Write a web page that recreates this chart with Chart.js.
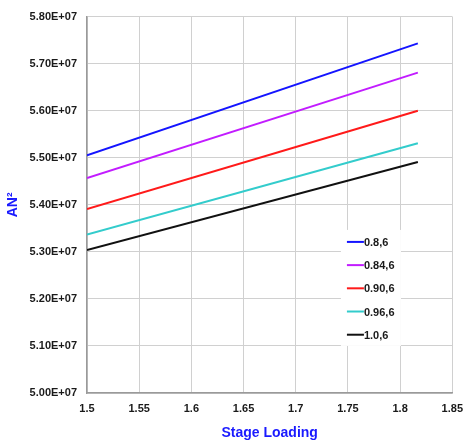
<!DOCTYPE html>
<html>
<head>
<meta charset="utf-8">
<script src="https://cdn.jsdelivr.net/npm/chart.js@4"></script>
<style>
  html, body { margin: 0; padding: 0; background: #fff; }
  #wrap { width: 472px; height: 442px; }
</style>
</head>
<body>
<div id="wrap"><canvas id="chart" width="472" height="442"></canvas></div>
<script>
const FONT = "'Liberation Sans', Arial, sans-serif";

// stage loading at the two ends of every line
const stageLoading = [1.5, 1.817];

const seriesNames = ["0.8,6", "0.84,6", "0.90,6", "0.96,6", "1.0,6"];
const seriesColors = ["#1414ff", "#c21cff", "#ff1a1a", "#33cccc", "#111111"];

const an2_08 = [5.505e7, 5.743e7];
const an2_084 = [5.457e7, 5.681e7];
const an2_090 = [5.391e7, 5.600e7];
const an2_096 = [5.337e7, 5.531e7];
const an2_10 = [5.304e7, 5.491e7];

const allSeries = [an2_08, an2_084, an2_090, an2_096, an2_10];

const xTicks = [1.5, 1.55, 1.6, 1.65, 1.7, 1.75, 1.8, 1.85];

// legend drawn inside the plot, like the original
const innerLegend = {
  id: "innerLegend",
  afterDraw(chart) {
    const ctx = chart.ctx;
    const x = chart.scales.x.getPixelForValue(1.75) - 1;
    const y0 = chart.scales.y.getPixelForValue(5.37e7) + 23;
    ctx.save();
    ctx.fillStyle = "#fff";
    ctx.fillRect(x - 6, y0 - 12, 60, 116);
    ctx.font = "bold 11px " + FONT;
    ctx.textBaseline = "middle";
    chart.data.datasets.forEach((ds, i) => {
      const y = y0 + i * 23.2;
      ctx.strokeStyle = ds.borderColor;
      ctx.lineWidth = 2;
      ctx.beginPath();
      ctx.moveTo(x, y);
      ctx.lineTo(x + 17, y);
      ctx.stroke();
      ctx.fillStyle = "#1a1a1a";
      ctx.fillText(ds.label, x + 17, y + 1);
    });
    ctx.restore();
  }
};

new Chart(document.getElementById("chart"), {
  type: "line",
  data: {
    datasets: allSeries.map((vals, i) => ({
      label: seriesNames[i],
      data: vals.map((v, j) => ({ x: stageLoading[j], y: v })),
      borderColor: seriesColors[i],
      borderWidth: 2,
      pointRadius: 0,
      fill: false,
      tension: 0
    }))
  },
  options: {
    responsive: false,
    animation: false,
    layout: { padding: { top: 14, right: 15, left: 0, bottom: 0 } },
    plugins: { legend: { display: false }, tooltip: { enabled: false } },
    scales: {
      x: {
        type: "linear",
        min: 1.5,
        max: 1.85,
        afterBuildTicks: axis => { axis.ticks = xTicks.map(v => ({ value: v })); },
        afterFit: axis => { axis.height = 49; },
        grid: { color: "#d0d0d0", lineWidth: 1, drawTicks: false },
        border: { color: "#9a9a9a", width: 1.5 },
        ticks: {
          color: "#1a1a1a",
          padding: 9,
          maxRotation: 0,
          font: { family: FONT, size: 11, weight: "bold" },
          callback: v => String(Math.round(v * 100) / 100)
        },
        title: {
          display: true,
          text: "Stage Loading",
          color: "#1a1aff",
          padding: { top: 5, bottom: 0 },
          font: { family: FONT, size: 14, weight: "bold" }
        }
      },
      y: {
        min: 5.0e7,
        max: 5.8e7,
        afterFit: axis => { axis.width = 87; },
        grid: { color: "#d0d0d0", lineWidth: 1, drawTicks: false },
        border: { color: "#9a9a9a", width: 1.5 },
        ticks: {
          stepSize: 1e6,
          color: "#1a1a1a",
          padding: 10,
          font: { family: FONT, size: 11, weight: "bold" },
          callback: v => (v / 1e7).toFixed(2) + "E+07"
        },
        title: {
          display: true,
          text: "AN²",
          color: "#1a1aff",
          padding: { top: 5, bottom: 0 },
          font: { family: FONT, size: 14, weight: "bold" }
        }
      }
    }
  },
  plugins: [innerLegend]
});
</script>
</body>
</html>
